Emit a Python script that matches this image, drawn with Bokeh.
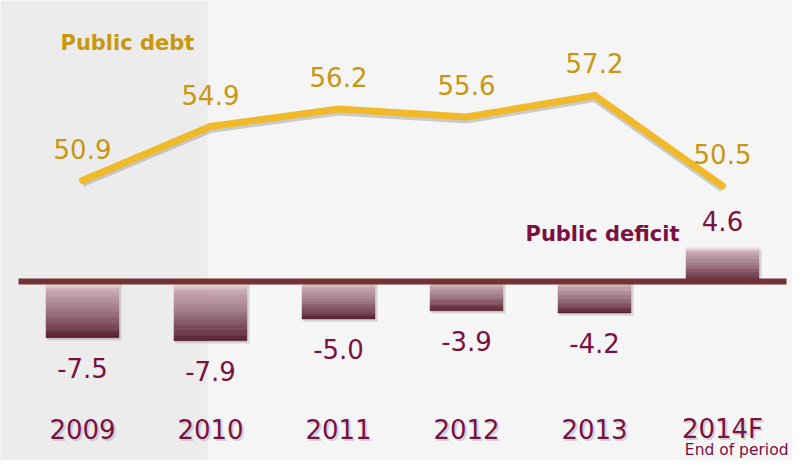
from bokeh.plotting import figure
from bokeh.models import Range1d, Label, LabelSet, ColumnDataSource, BoxAnnotation
from bokeh.core.properties import value
from bokeh.embed import file_html
from bokeh.resources import INLINE

# ---- data ----
years = ["2009", "2010", "2011", "2012", "2013", "2014F"]
public_debt = [50.9, 54.9, 56.2, 55.6, 57.2, 50.5]
public_deficit = [-7.5, -7.9, -5.0, -3.9, -4.2, 4.6]

FONT = "DejaVu Sans"
GOLD_LINE = "#f0b92a"
GOLD_TEXT = "#c9960f"
MAROON = "#7b1042"
BASE = "#733333"

W, H = 792, 460
frame_h = H

# pixel scales
px_def = 7.5
px_debt = 13.5
zero_px = 281.0
debt_ref_px = 180.0
first_x_px = 82.0
step_px = 128.0

x = list(range(len(years)))
x0 = -first_x_px / step_px
x1 = x0 + W / step_px

def_top = zero_px / px_def
def_bot = def_top - frame_h / px_def
debt_top = public_debt[0] + debt_ref_px / px_debt
debt_bot = debt_top - frame_h / px_debt

p = figure(width=W, height=H, output_backend="svg", toolbar_location=None,
           x_range=Range1d(x0, x1), y_range=Range1d(def_bot, def_top),
           x_axis_type=None, y_axis_type=None, min_border=0)
p.background_fill_color = "#f5f5f5"
p.border_fill_color = "#f5f5f5"
p.outline_line_color = None
p.grid.visible = False

# darker watermark panel on the left
p.add_layout(BoxAnnotation(left=0, right=207, left_units="screen", right_units="screen",
                           fill_color="#ececec", fill_alpha=1.0, line_color=None,
                           level="underlay"))

p.extra_y_ranges = {
    "debt": Range1d(debt_bot, debt_top),
    "shadow": Range1d(debt_bot + 3 / px_debt, debt_top + 3 / px_debt),
}

# ---- gradient bars for deficit ----
stops = [(0.0, (248, 238, 240)), (0.06, (232, 214, 219)), (0.16, (200, 168, 177)),
         (0.50, (160, 122, 134)), (0.85, (116, 64, 79)), (1.0, (84, 28, 44))]

def grad(t):
    for (a, ca), (b, cb) in zip(stops[:-1], stops[1:]):
        if a <= t <= b:
            f = (t - a) / (b - a) if b > a else 0
            c = [int(round(ca[j] + (cb[j] - ca[j]) * f)) for j in range(3)]
            return "#%02x%02x%02x" % tuple(c)
    return "#%02x%02x%02x" % stops[-1][1]

N = 24
bx, btop, bbot, bcol = [], [], [], []
for xi, v in zip(x, public_deficit):
    for k in range(N):
        f0, f1 = k / N, (k + 1) / N
        if v < 0:
            t, b = v * f0, v * f1
        else:
            t, b = v * (1 - f0), v * (1 - f1)
        bx.append(xi)
        btop.append(t)
        bbot.append(b)
        bcol.append(grad((k + 0.5) / N))
# soft shadow
p.vbar(x=[xi + 0.015 for xi in x], top=[0 if v < 0 else v - 0.3 for v in public_deficit],
       bottom=[v - 0.35 if v < 0 else -0.3 for v in public_deficit], width=0.58,
       fill_color="#8f8f8f", fill_alpha=0.3, line_color=None)
p.vbar(x=bx, top=btop, bottom=bbot, width=0.57, fill_color=bcol, line_color=bcol, line_width=0.5)

# baseline
p.segment(x0=[-0.5], x1=[len(years) - 0.5], y0=[0], y1=[0], line_color=BASE, line_width=6)

# deficit labels
offs = [30 if v < 0 else -26 for v in public_deficit]
src_def = ColumnDataSource(dict(x=x, y=public_deficit, t=["%.1f" % v for v in public_deficit], off=offs))
p.text(x="x", y="y", text="t", source=src_def, y_offset="off",
       text_align="center", text_baseline="middle", text_color=MAROON,
       text_font=value(FONT), text_font_size="26px")

# ---- debt line ----
p.line(x=x, y=public_debt, y_range_name="shadow", line_color="#8a8a8a", line_alpha=0.4,
       line_width=7, line_join="round")
p.line(x=x, y=public_debt, y_range_name="debt", line_color=GOLD_LINE, line_width=7,
       line_join="miter", line_cap="round")
src_debt = ColumnDataSource(dict(x=x, y=public_debt, t=["%.1f" % v for v in public_debt]))
p.text(x="x", y="y", text="t", source=src_debt, y_range_name="debt", y_offset=-32,
       text_align="center", text_baseline="middle", text_color=GOLD_TEXT,
       text_font=value(FONT), text_font_size="26px")

# ---- series titles ----
p.add_layout(Label(x=60, y=frame_h - 42, x_units="screen", y_units="screen",
                   text="Public debt", text_font=FONT, text_font_size="21px",
                   text_font_style="bold", text_color=GOLD_TEXT,
                   text_baseline="middle", text_align="left"))
p.add_layout(Label(x=525, y=frame_h - 233, x_units="screen", y_units="screen",
                   text="Public deficit", text_font=FONT, text_font_size="21px",
                   text_font_style="bold", text_color=MAROON,
                   text_baseline="middle", text_align="left"))

# ---- year labels (category axis) ----
src_years = ColumnDataSource(dict(x=x, y=[frame_h - 428] * len(x), t=years))
p.add_layout(LabelSet(x="x", y="y", text="t", source=src_years, y_units="screen",
                      x_offset=2, y_offset=-2, text_font=value(FONT), text_font_size=value("26px"),
                      text_color=value("#9a9a9a"), text_alpha=0.4,
                      text_align="center", text_baseline="middle"))
p.add_layout(LabelSet(x="x", y="y", text="t", source=src_years, y_units="screen",
                      text_font=value(FONT), text_font_size=value("26px"), text_color=value(MAROON),
                      text_align="center", text_baseline="middle"))

p.add_layout(Label(x=788, y=frame_h - 449, x_units="screen", y_units="screen",
                   text="End of period", text_font=FONT, text_font_size="15.5px",
                   text_color=MAROON, text_baseline="middle", text_align="right"))

open("out.html", "w").write(file_html(p, INLINE))
